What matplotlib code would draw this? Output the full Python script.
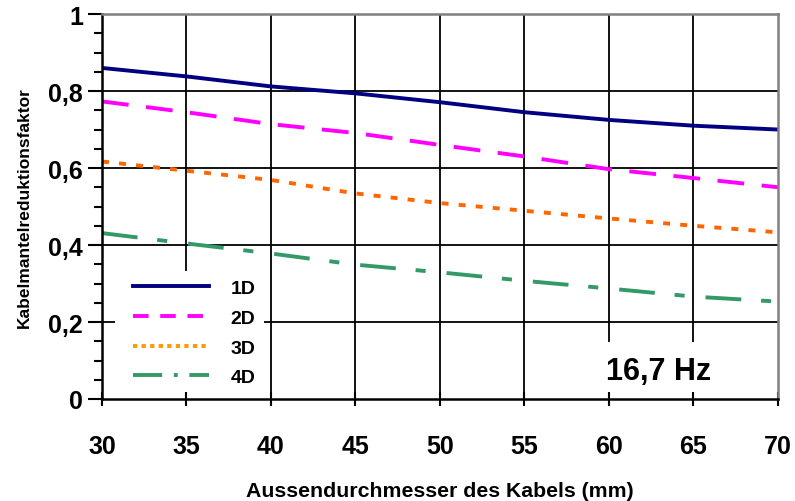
import matplotlib
matplotlib.use("Agg")
import matplotlib.pyplot as plt
from matplotlib.lines import Line2D
from matplotlib.patches import Rectangle

plt.rcParams['font.family'] = ['Liberation Sans', 'DejaVu Sans']
plt.rcParams['font.weight'] = 'bold'

# data
durchmesser = [30, 35, 40, 45, 50, 55, 60, 65, 70]
faktor_1d = [0.860, 0.838, 0.812, 0.794, 0.771, 0.745, 0.725, 0.710, 0.700]
faktor_2d = [0.773, 0.745, 0.714, 0.691, 0.660, 0.630, 0.597, 0.574, 0.550]
faktor_3d = [0.617, 0.593, 0.569, 0.534, 0.509, 0.489, 0.469, 0.450, 0.433]
faktor_4d = [0.431, 0.404, 0.378, 0.349, 0.329, 0.307, 0.287, 0.266, 0.253]
labels = ['1D', '2D', '3D', '4D']
x_ticks = [30, 35, 40, 45, 50, 55, 60, 65, 70]
y_ticks = [0, 0.2, 0.4, 0.6, 0.8, 1]
y_ticklabels = ['0', '0,2', '0,4', '0,6', '0,8', '1']

fig = plt.figure(figsize=(7.95, 5.02), dpi=100)
ax = fig.add_axes([0.1283, 0.2032, 0.8503, 0.7668])

# grid by hand so the white boxes can sit between grid and ticks
for xv in x_ticks[1:-1]:
    ax.axvline(xv, color='black', lw=1.3, zorder=0.8)
for yv in y_ticks[1:-1]:
    ax.axhline(yv, color='black', lw=1.3, zorder=0.8)

ax.add_patch(Rectangle((0.019, 0), 0.22, 0.333, transform=ax.transAxes,
                       facecolor='white', edgecolor='none', zorder=1))
ax.add_patch(Rectangle((0.65, 0), 0.347, 0.148, transform=ax.transAxes,
                       facecolor='white', edgecolor='none', zorder=1))

lw = 2.8
ax.plot(durchmesser, faktor_1d, color='#000080', lw=lw, zorder=2)
ax.plot(durchmesser, faktor_2d, color='#FF00FF', lw=lw, dashes=(6.9, 4.5), zorder=2)
ax.plot(durchmesser, faktor_3d, color='#FF6600', lw=lw, dashes=(1.8, 2.6), zorder=2)
ax.plot(durchmesser, faktor_4d, color='#339966', lw=lw, dashes=(9.2, 5.1, 2.6, 5.4), zorder=2)

handles = [
    Line2D([], [], color='#000080', lw=lw),
    Line2D([], [], color='#FF00FF', lw=lw, dashes=(4, 3)),
    Line2D([], [], color='#FF9900', lw=lw, dashes=(1.1, 1.1)),
    Line2D([], [], color='#339966', lw=lw, dashes=(7.5, 3, 1, 3)),
]
ax.legend(handles, labels, loc='upper left', bbox_to_anchor=(0.046, 0.31),
          frameon=False, fontsize=14, handlelength=3.9, handletextpad=1.1,
          labelspacing=0.62, borderpad=0, borderaxespad=0)

ax.text(62.96, 0.073, '16,7 Hz', fontsize=22, fontweight='bold',
        ha='center', va='center')

ax.set_xlim(30, 70)
ax.set_ylim(0, 1)
ax.set_xticks(x_ticks)
ax.set_xticklabels([str(v) for v in x_ticks])
ax.set_yticks(y_ticks)
ax.set_yticklabels(y_ticklabels)
ax.set_yticks([v / 20 for v in range(21)], minor=True)
ax.tick_params(axis='x', direction='inout', length=10, width=1.5, labelsize=18, pad=20.5)
ax.tick_params(axis='y', which='major', direction='out', length=10, width=1.5, labelsize=18, pad=3.6)
ax.tick_params(axis='y', which='minor', direction='out', length=6, width=1.5)

for side in ['left', 'bottom']:
    ax.spines[side].set_linewidth(1.8)
    ax.spines[side].set_color('black')
for side in ['top', 'right']:
    ax.spines[side].set_linewidth(1.8)
    ax.spines[side].set_color('#808080')

ax.set_xlabel('Aussendurchmesser des Kabels (mm)', fontsize=15.3, fontweight='bold', labelpad=16)
ax.set_ylabel('Kabelmantelreduktionsfaktor', fontsize=12.5, fontweight='bold', labelpad=12)

fig.savefig('out.png', dpi=100)
